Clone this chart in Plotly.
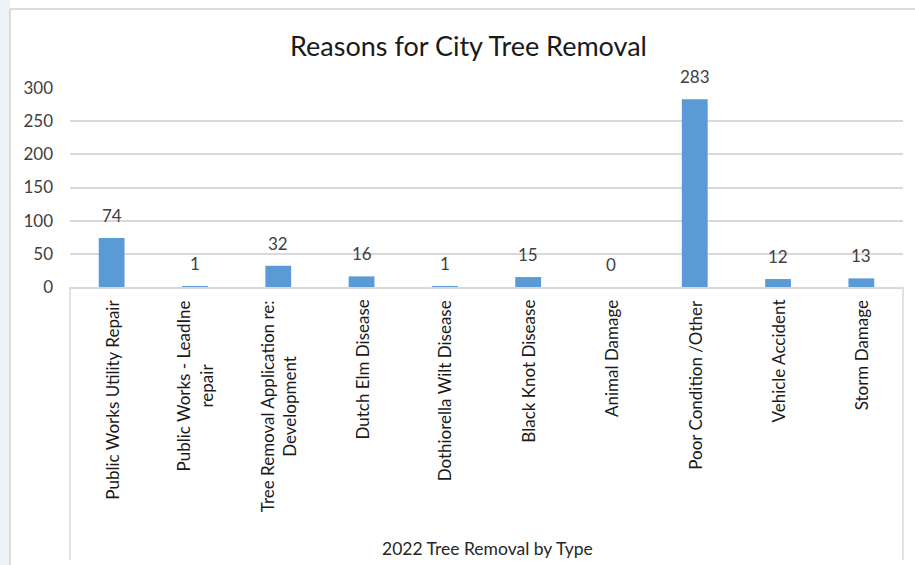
import plotly.graph_objects as go

# Removal reasons and counts for 2022
categories = [
    "Public Works Utility Repair",
    "Public Works - LeadIne<br>repair",
    "Tree Removal Application re:<br>Development",
    "Dutch Elm Disease",
    "Dothiorella Wilt Disease",
    "Black Knot Disease",
    "Animal Damage",
    "Poor Condition /Other",
    "Vehicle Accident",
    "Storm Damage",
]
counts = [74, 1, 32, 16, 1, 15, 0, 283, 12, 13]
y_ticks = [0, 50, 100, 150, 200, 250, 300]

FONT = "Lato, 'Open Sans', sans-serif"
BAR = "#5b9bd5"
GRID = "#d9d9d9"
TEXT = "#404040"

W, H = 915, 565
L, R, T, B = 70, 12, 88, 278
plot_w = W - L - R
plot_h = H - T - B


def px_x(p):
    return (p - L) / plot_w


def px_y(p):
    return (H - B - p) / plot_h


fig = go.Figure()
fig.add_trace(go.Bar(
    x=categories,
    y=counts,
    marker=dict(color=BAR, line=dict(width=0)),
    width=0.31,
    hoverinfo="x+y",
))

# value labels above each bar
for c, v in zip(categories, counts):
    fig.add_annotation(
        x=c, y=v, text=str(v), showarrow=False,
        xref="x", yref="y", yanchor="bottom", yshift=10,
        font=dict(family=FONT, size=17, color=TEXT),
    )

# rotated category labels, multi-line ones centred
for c in categories:
    fig.add_annotation(
        x=c, y=0, text=c, showarrow=False, textangle=-90,
        xref="x", yref="y", yanchor="top", xanchor="center", yshift=-11,
        align="center",
        font=dict(family=FONT, size=17, color="#1a1a1a"),
    )

# chart title and category-axis title
fig.add_annotation(
    x=px_x(468), y=px_y(45), xref="paper", yref="paper",
    text="Reasons for City Tree Removal", showarrow=False,
    yanchor="middle", xanchor="center",
    font=dict(family=FONT, size=27, color="#1a1a1a"),
)
fig.add_annotation(
    x=px_x(487), y=px_y(548), xref="paper", yref="paper",
    text="2022 Tree Removal by Type", showarrow=False,
    yanchor="middle", xanchor="center",
    font=dict(family=FONT, size=17.5, color="#262626"),
)

fig.update_layout(
    width=W, height=H,
    margin=dict(l=L, r=R, t=T, b=B),
    paper_bgcolor="white",
    plot_bgcolor="white",
    showlegend=False,
    xaxis=dict(
        type="category",
        showgrid=False,
        showline=True, linecolor=GRID, linewidth=1.5,
        ticks="", showticklabels=False,
        range=[-0.5, len(categories) - 0.5],
    ),
    yaxis=dict(
        range=[0, 300],
        tickvals=y_ticks,
        showgrid=True, gridcolor=GRID, gridwidth=1.5,
        zeroline=False, showline=False,
        ticks="", ticklabelstandoff=16,
        tickfont=dict(family=FONT, size=17, color="#404040"),
    ),
)

# outer chart frame and the category-axis box
fig.add_shape(type="rect", xref="paper", yref="paper",
              x0=px_x(0), x1=px_x(10), y0=px_y(566), y1=px_y(0),
              fillcolor="#eef3f9", line=dict(width=0), layer="below")
fig.add_shape(type="line", xref="paper", yref="paper",
              x0=px_x(10), x1=px_x(10), y0=px_y(566), y1=px_y(9),
              line=dict(color="#d0d0d0", width=1.5))
fig.add_shape(type="line", xref="paper", yref="paper",
              x0=px_x(10), x1=px_x(916), y0=px_y(9), y1=px_y(9),
              line=dict(color="#d0d0d0", width=1.5))
for xp in (70, 903):
    fig.add_shape(type="line", xref="paper", yref="paper",
                  x0=px_x(xp), x1=px_x(xp), y0=0, y1=px_y(560),
                  line=dict(color=GRID, width=1.5))

fig.write_html("out.html")
